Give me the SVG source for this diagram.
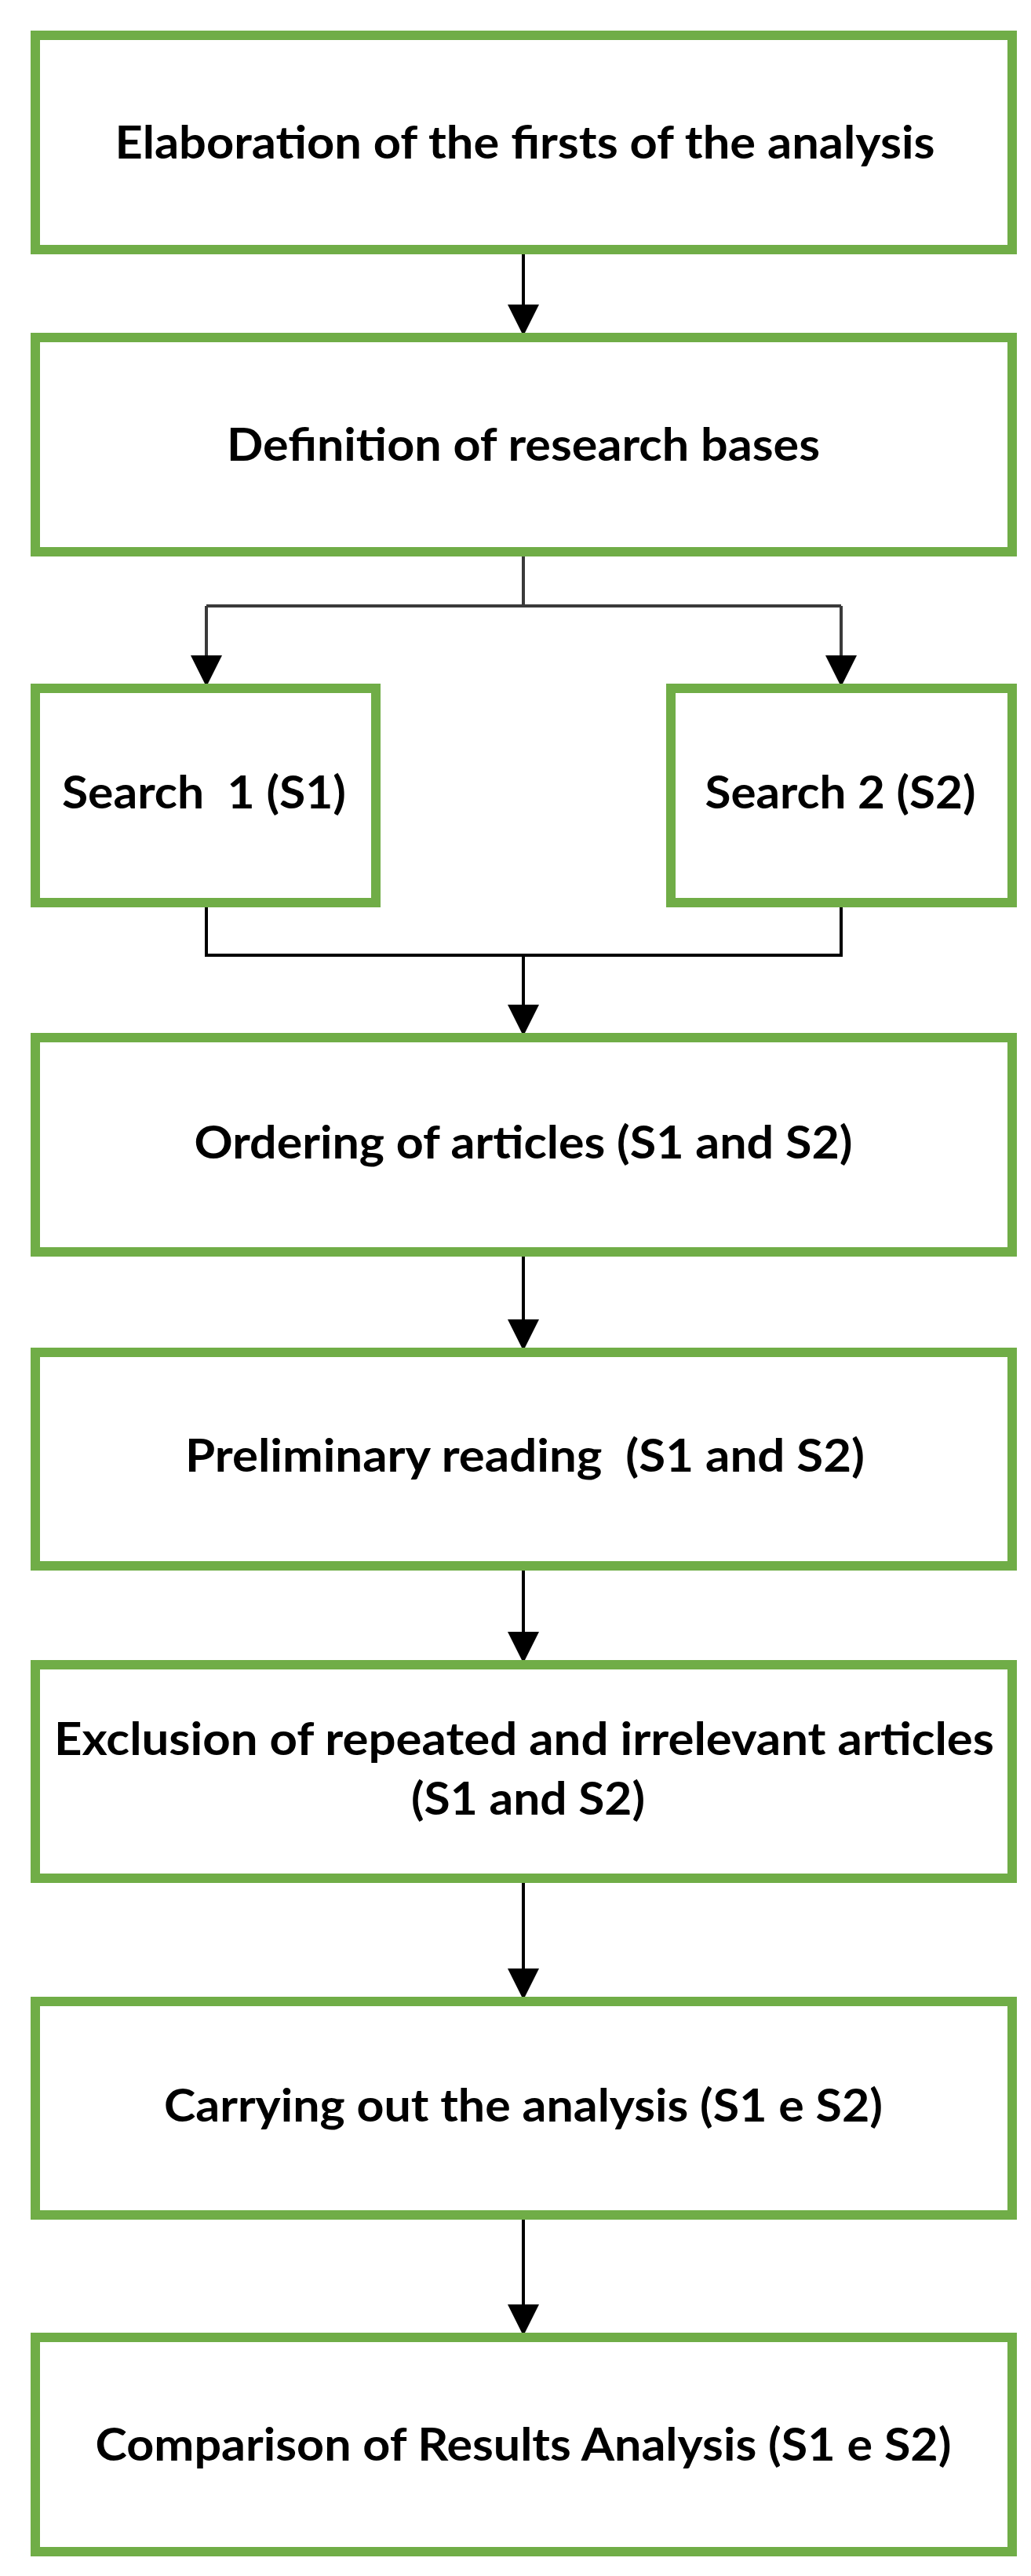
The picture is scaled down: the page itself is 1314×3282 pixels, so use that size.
<svg xmlns="http://www.w3.org/2000/svg" width="1314" height="3282" viewBox="0 0 1314 3282">
<style>
.box{fill:#ffffff;stroke:#70AD47;stroke-width:12}
.lbl{font-family:Lato,"Liberation Sans",sans-serif;font-weight:700;font-size:57px;fill:#000000;text-anchor:middle}
.con{fill:none;stroke:#000000;stroke-width:4}
.split{fill:none;stroke:#3a3a3a;stroke-width:4}
</style>
<defs>
<marker id="arr" markerUnits="userSpaceOnUse" markerWidth="40" markerHeight="40" viewBox="0 0 40 40" refX="38" refY="20" orient="auto">
<path d="M0,0 L40,20 L0,40 Z" fill="#000000"/>
</marker>
</defs>
<rect width="1314" height="3282" fill="#ffffff"/>
<g id="connectors">
<path class="con" d="M667,318 V426" marker-end="url(#arr)"/>
<path class="split" d="M667,703 V772"/>
<path class="split" d="M263,772 H1072"/>
<path class="split" d="M263,772 V873" marker-end="url(#arr)"/>
<path class="split" d="M1072,772 V873" marker-end="url(#arr)"/>
<path class="con" d="M263,1150 V1217 H1072 V1150"/>
<path class="con" d="M667,1217 V1318" marker-end="url(#arr)"/>
<path class="con" d="M667,1595 V1719" marker-end="url(#arr)"/>
<path class="con" d="M667,1995 V2117" marker-end="url(#arr)"/>
<path class="con" d="M667,2393 V2546" marker-end="url(#arr)"/>
<path class="con" d="M667,2822 V2974" marker-end="url(#arr)"/>
</g>
<g id="n1">
<rect class="box" x="45" y="45" width="1245" height="273"/>
<text class="lbl" x="669" y="202" textLength="1045" lengthAdjust="spacingAndGlyphs">Elaboration of the firsts of the analysis</text>
</g>
<g id="n2">
<rect class="box" x="45" y="430" width="1245" height="273"/>
<text class="lbl" x="667" y="587" textLength="756" lengthAdjust="spacingAndGlyphs">Definition of research bases</text>
</g>
<g id="s1">
<rect class="box" x="45" y="877" width="434" height="273"/>
<text class="lbl" x="260" y="1030" textLength="362" lengthAdjust="spacingAndGlyphs" xml:space="preserve">Search  1 (S1)</text>
</g>
<g id="s2">
<rect class="box" x="855" y="877" width="435" height="273"/>
<text class="lbl" x="1071" y="1030" textLength="345" lengthAdjust="spacingAndGlyphs">Search 2 (S2)</text>
</g>
<g id="n3">
<rect class="box" x="45" y="1322" width="1245" height="273"/>
<text class="lbl" x="667" y="1476" textLength="839" lengthAdjust="spacingAndGlyphs">Ordering of articles (S1 and S2)</text>
</g>
<g id="n4">
<rect class="box" x="45" y="1723" width="1245" height="272"/>
<text class="lbl" x="669" y="1875" textLength="866" lengthAdjust="spacingAndGlyphs" xml:space="preserve">Preliminary reading  (S1 and S2)</text>
</g>
<g id="n5">
<rect class="box" x="45" y="2121" width="1245" height="272"/>
<text class="lbl" x="668" y="2236" textLength="1198" lengthAdjust="spacingAndGlyphs">Exclusion of repeated and irrelevant articles</text>
<text class="lbl" x="673" y="2312" textLength="298" lengthAdjust="spacingAndGlyphs">(S1 and S2)</text>
</g>
<g id="n6">
<rect class="box" x="45" y="2550" width="1245" height="272"/>
<text class="lbl" x="667" y="2703" textLength="916" lengthAdjust="spacingAndGlyphs">Carrying out the analysis (S1 e S2)</text>
</g>
<g id="n7">
<rect class="box" x="45" y="2978" width="1245" height="273"/>
<text class="lbl" x="667" y="3135" textLength="1091" lengthAdjust="spacingAndGlyphs">Comparison of Results Analysis (S1 e S2)</text>
</g>
</svg>
